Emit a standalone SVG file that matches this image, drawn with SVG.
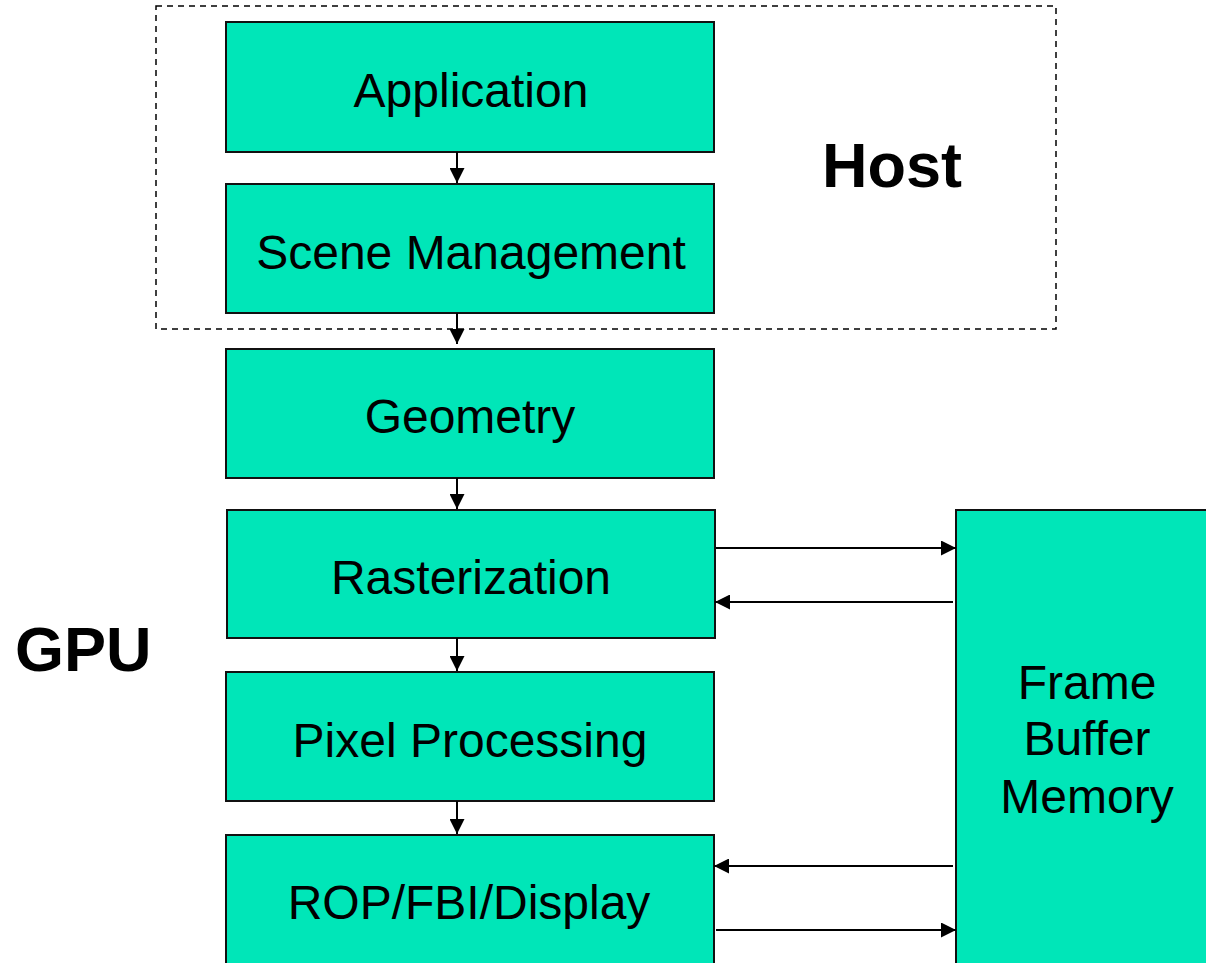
<svg xmlns="http://www.w3.org/2000/svg" width="1206" height="963" viewBox="0 0 1206 963">
  <style>
    .stage { fill: #00E6B8; stroke: #111; stroke-width: 2; }
    .label { font-family: "Liberation Sans", Arial, sans-serif; font-size: 48px; fill: #000; text-anchor: middle; }
    .title { font-family: "Liberation Sans", Arial, sans-serif; font-weight: bold; fill: #000; }
    .link { stroke: #000; stroke-width: 2; fill: none; marker-end: url(#head); }
  </style>
  <defs>
    <marker id="head" viewBox="0 0 14 14" refX="14" refY="7" markerWidth="15" markerHeight="15" markerUnits="userSpaceOnUse" orient="auto">
      <path d="M0,0 L14,7 L0,14 Z" fill="#000"/>
    </marker>
  </defs>
  <rect width="1206" height="963" fill="#fff"/>

  <!-- host boundary -->
  <g id="host">
    <rect x="156" y="6" width="900" height="323" fill="none" stroke="#000" stroke-width="1.5" stroke-dasharray="6 5"/>
    <text class="title" x="822" y="187" font-size="63">Host</text>
  </g>
  <g id="gpu">
    <text class="title" x="15" y="671" font-size="63">GPU</text>
  </g>

  <g id="application">
    <rect class="stage" x="226" y="22" width="488" height="130"/>
    <text class="label" x="471" y="107">Application</text>
  </g>
  <g id="scene-management">
    <rect class="stage" x="226" y="184" width="488" height="129"/>
    <text class="label" x="471" y="269">Scene Management</text>
  </g>
  <g id="geometry">
    <rect class="stage" x="226" y="349" width="488" height="129"/>
    <text class="label" x="470" y="433">Geometry</text>
  </g>
  <g id="rasterization">
    <rect class="stage" x="227" y="510" width="488" height="128"/>
    <text class="label" x="471" y="594">Rasterization</text>
  </g>
  <g id="pixel-processing">
    <rect class="stage" x="226" y="672" width="488" height="129"/>
    <text class="label" x="470" y="757">Pixel Processing</text>
  </g>
  <g id="rop-fbi-display">
    <rect class="stage" x="226" y="835" width="488" height="140"/>
    <text class="label" x="469" y="919">ROP/FBI/Display</text>
  </g>
  <g id="frame-buffer-memory">
    <rect class="stage" x="956" y="510" width="260" height="470"/>
    <text class="label" x="1087" y="699">Frame</text>
    <text class="label" x="1087" y="755">Buffer</text>
    <text class="label" x="1087" y="813">Memory</text>
  </g>

  <g id="connectors">
    <line class="link" x1="457" y1="152" x2="457" y2="183"/>
    <line class="link" x1="457" y1="313" x2="457" y2="344"/>
    <line class="link" x1="457" y1="478" x2="457" y2="509"/>
    <line class="link" x1="457" y1="638" x2="457" y2="671"/>
    <line class="link" x1="457" y1="801" x2="457" y2="834"/>
    <line class="link" x1="716" y1="548" x2="956" y2="548"/>
    <line class="link" x1="953" y1="602" x2="715" y2="602"/>
    <line class="link" x1="953" y1="866" x2="714" y2="866"/>
    <line class="link" x1="716" y1="930" x2="956" y2="930"/>
  </g>
</svg>
